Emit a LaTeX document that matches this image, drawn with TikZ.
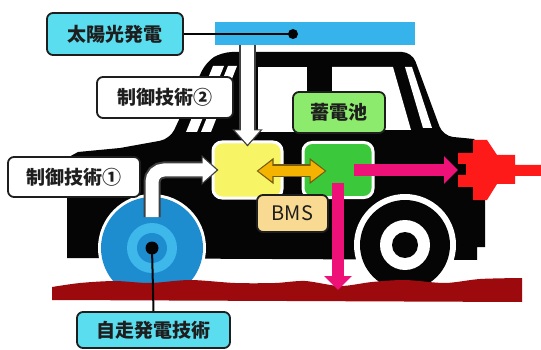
\documentclass[tikz,border=0pt]{standalone}
\usepackage{fontspec}
\newfontfamily\jpfont{Noto Sans CJK JP}
\definecolor{SkyCyan}{HTML}{5ADDEE}
\definecolor{PanelBlue}{HTML}{35B3EA}
\definecolor{EdgeGray}{HTML}{1E1E1E}
\definecolor{CarBlack}{HTML}{050505}
\definecolor{CtrlYellow}{HTML}{F7F465}
\definecolor{CellGreen}{HTML}{3BC93B}
\definecolor{LeafGreen}{HTML}{8CEB6C}
\definecolor{BmsSand}{HTML}{F8DA92}
\definecolor{SwapOrange}{HTML}{F4B300}
\definecolor{FlowPink}{HTML}{EE1278}
\definecolor{PlugRed}{HTML}{FF1A1A}
\definecolor{SoilRed}{HTML}{9C0A0E}
\definecolor{WheelBlue}{HTML}{1D8DD0}
\definecolor{RingBlue}{HTML}{3EB7EA}
\usetikzlibrary{arrows.meta, calc}
\tikzset{
  tag/.style={draw=EdgeGray, line width=1.8pt, rounded corners=6pt, fill=white, inner sep=0pt, text=EdgeGray, font=\jpfont\bfseries\fontsize{19}{22}\selectfont},
  unit/.style={draw=white, line width=3pt, rounded corners=9pt, inner sep=0pt},
  wire/.style={line width=2pt, draw=CarBlack},
  flow/.style={line width=12pt, draw=FlowPink, -{Triangle[length=14pt, width=27pt]}}
}

\begin{document}
\begin{tikzpicture}[x=1pt, y=-1pt,
  hollow/.style={line width=17pt, draw=EdgeGray!85, -{Triangle[length=17pt, width=29pt]}},
  hollowfill/.style={line width=13pt, draw=white, shorten >=2pt, -{Triangle[length=14pt, width=24pt]}},
  swap/.style={line width=13pt, draw=EdgeGray!60!SwapOrange, {Triangle[length=17pt, width=25pt]}-{Triangle[length=17pt, width=25pt]}},
  swapfill/.style={line width=9.5pt, draw=SwapOrange, shorten <=1.8pt, shorten >=1.8pt, {Triangle[length=14pt, width=20pt]}-{Triangle[length=14pt, width=20pt]}}
]
\useasboundingbox[fill=white] (0,0) rectangle (541,350);

% solar panel on the roof
\node[fill=PanelBlue, minimum width=200pt, minimum height=23pt, inner sep=0pt] (panel) at (315,33.5) {};

% car body and windows
\fill[CarBlack] (67,258) -- (67,158) -- (78,152) -- (120,148) [rounded corners=10pt] -- (170,139)
  -- (206,62) -- (222,52) -- (412,52) -- (443,136) [sharp corners] -- (474,139) -- (485,151)
  -- (485,247) -- (477,247) -- (477,260) -- cycle;
\fill[white] (213,66) -- (224,66) -- (197,132) -- (186,132) -- cycle;
\fill[white] (228,66) -- (237,66) -- (211,132) -- (201,132) -- cycle;
\fill[white] (258,67) rectangle (307,132);
\fill[white] (332,67) -- (393,67) -- (411,130) -- (332,130) -- cycle;
\fill[white] (405,67) -- (412,67) -- (432,128) -- (423,128) -- cycle;

% wheels
\coordinate (hub) at (152,248);
\coordinate (rim) at (405,245);
\fill[white] (hub) circle (54pt) (rim) circle (51pt);
\fill[WheelBlue] (hub) circle (51pt);
\fill[RingBlue] (hub) circle (25pt);
\fill[WheelBlue] (hub) circle (15pt);
\fill[CarBlack] (hub) circle (6.5pt);
\fill[CarBlack] (rim) circle (45pt);
\fill[white] (rim) circle (25pt);
\fill[CarBlack] (rim) circle (13pt);

% road
\fill[SoilRed] plot[smooth] coordinates {(52,287) (80,283) (115,281) (150,283) (190,280) (235,283)
  (275,283) (305,281) (340,286) (372,282) (405,280) (445,283) (480,279) (522,278)}
  -- (522,302) -- (52,300) -- cycle;

% controller, battery, BMS
\node[unit, fill=CtrlYellow, minimum width=69pt, minimum height=56pt] (ctrl) at (247.5,170) {};
\node[unit, fill=CellGreen, minimum width=70pt, minimum height=55pt] (cell) at (338,170) {};
\node[tag, fill=BmsSand, font=\jpfont\fontsize{20}{22}\selectfont, minimum width=71pt, minimum height=37pt] (bms) at (292.5,213.5) {BMS};
\node[tag, fill=LeafGreen, minimum width=92pt, minimum height=41pt] (celltag) at (339,112.5) {蓄電池};

% labels
\node[tag, fill=SkyCyan, minimum width=136pt, minimum height=42pt] (solar) at (115,34) {太陽光発電};
\node[tag, minimum width=136pt, minimum height=41pt] (ctrltwo) at (165,97.5) {制御技術②};
\node[tag, minimum width=132pt, minimum height=40pt] (ctrlone) at (74,177) {制御技術①};
\node[tag, fill=SkyCyan, minimum width=153pt, minimum height=36pt] (selfgen) at (153.5,330) {自走発電技術};

% leader lines
\coordinate (sundot) at (293,34);
\draw[wire] (solar.east) -- (sundot);
\fill[CarBlack] (sundot) circle (5pt);
\draw[wire] (hub) -- (selfgen.north);

% white arrows into the controller
\draw[hollow] (panel.south -| ctrl.north) -- ($(ctrl.north)+(0,6)$);
\draw[hollowfill] (panel.south -| ctrl.north) -- ($(ctrl.north)+(0,6)$);
\draw[hollow, rounded corners=12pt] ($(hub)+(0,-31)$) |- ($(ctrl.west)+(7,0)$);
\draw[hollowfill, rounded corners=12pt] ($(hub)+(0,-31)$) |- ($(ctrl.west)+(7,0)$);

% controller <-> battery
\draw[swap] ($(ctrl.east)+(-27,1)$) -- ($(cell.west)+(25,1)$);
\draw[swapfill] ($(ctrl.east)+(-27,1)$) -- ($(cell.west)+(25,1)$);

% plug and power flows
\coordinate (plug) at (458,170);
\coordinate (earth) at (338,290);
\fill[PlugRed, shift={(plug)}] (0,-17) -- (15,-17) -- (15,-30) -- (29,-30) -- (39,-15) -- (57,-15)
  -- (57,-5) -- (83,-5) -- (83,6) -- (57,6) -- (57,14) -- (39,14) -- (29,30) -- (15,30) -- (15,17)
  -- (0,17) -- (0,5) -- (8,5) -- (8,-6) -- (0,-6) -- cycle;
\draw[flow] ($(cell.east)+(-21,0)$) -- (plug);
\draw[flow] ($(cell.center)+(0,13)$) -- (earth);
\end{tikzpicture}
\end{document}
